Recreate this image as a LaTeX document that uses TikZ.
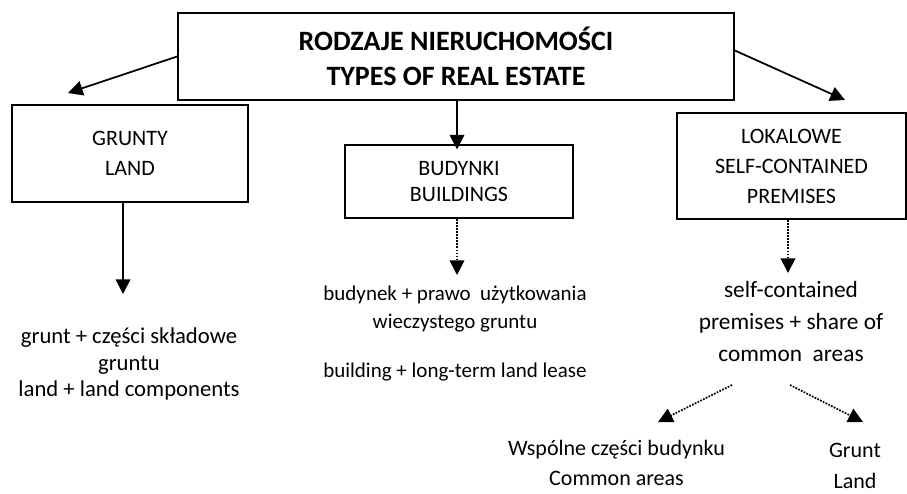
\documentclass[tikz,border=0pt]{standalone}
\usepackage{fontspec}
\setmainfont{Carlito}
\usetikzlibrary{arrows.meta}

\tikzset{every picture/.style={line width=1.3pt}}
\tikzset{
  boxnode/.style={draw, align=center, inner sep=0pt},
  textnode/.style={align=center, inner sep=0pt},
  solidarr/.style={-{Triangle[length=11pt,width=11pt]}},
  dotarr/.style={densely dotted, -{Triangle[length=11pt,width=11pt]}}
}

\begin{document}
\begin{tikzpicture}[x=0.75pt,y=0.75pt,yscale=-1,xscale=1]
\useasboundingbox (0,0) rectangle (907,493);

% Boxes
\node[boxnode, minimum width=417pt, minimum height=65.25pt, font=\fontsize{21}{26}\selectfont\bfseries] (types) at (456,56.5) {RODZAJE NIERUCHOMOŚCI\\TYPES OF REAL ESTATE};
\node[boxnode, minimum width=177pt, minimum height=72.75pt, font=\fontsize{16.5}{22}\selectfont] (grunty) at (130,153.5) {GRUNTY\\LAND};
\node[boxnode, minimum width=171pt, minimum height=54.75pt, font=\fontsize{16.5}{19.5}\selectfont] (budynki) at (459,181.5) {BUDYNKI\\BUILDINGS};
\node[boxnode, minimum width=171.75pt, minimum height=79.5pt, font=\fontsize{16.5}{22.5}\selectfont] (lokale) at (791.5,166) {LOKALOWE\\SELF-CONTAINED\\PREMISES};

% Text Node
\node[textnode, font=\fontsize{17}{20}\selectfont] (gruntTxt) at (129,364) {grunt + części składowe\\gruntu\\land + land components};
% Text Node
\node[textnode, font=\fontsize{15.75}{21}\selectfont] (budynekTxt) at (455,334) {budynek + prawo \ użytkowania\\wieczystego gruntu\\[15.75pt]building + long-term land lease};
% Text Node
\node[textnode, font=\fontsize{17.5}{24}\selectfont] (lokalTxt) at (791,321) {self-contained\\premises + share of\\common \ areas};
% Text Node
\node[textnode, font=\fontsize{16.5}{22.5}\selectfont] (wspolne) at (616.5,463) {Wspólne części budynku\\Common areas};
% Text Node
\node[textnode, font=\fontsize{16.5}{23}\selectfont] (gruntLand) at (855,466) {Grunt\\Land};

% free ends
\coordinate (tipGrunty) at (68,93);
\coordinate (tipLokale) at (845,100);
\coordinate (tipGruntTxt) at (123,294);
\coordinate (tipBudynek) at (457,275);
\coordinate (tipLokalTxt) at (788,273);
\coordinate (fromL) at (732,385);
\coordinate (tipWspolne) at (658,422);
\coordinate (fromR) at (790,385);
\coordinate (tipGruntLand) at (863,422);

%Straight Lines
\draw[solidarr] (types.west) -- (tipGrunty);
\draw[solidarr] ([yshift=-4.5pt]types.east) -- (tipLokale);
\draw[solidarr] (types.south -| tipBudynek) -- ([yshift=4pt]budynki.north -| tipBudynek);
\draw[solidarr] (grunty.south -| tipGruntTxt) -- (tipGruntTxt);
%Dotted Lines
\draw[dotarr] (budynki.south -| tipBudynek) -- (tipBudynek);
\draw[dotarr] (lokale.south -| tipLokalTxt) -- (tipLokalTxt);
\draw[dotarr] (fromL) -- (tipWspolne);
\draw[dotarr] (fromR) -- (tipGruntLand);

\end{tikzpicture}
\end{document}
